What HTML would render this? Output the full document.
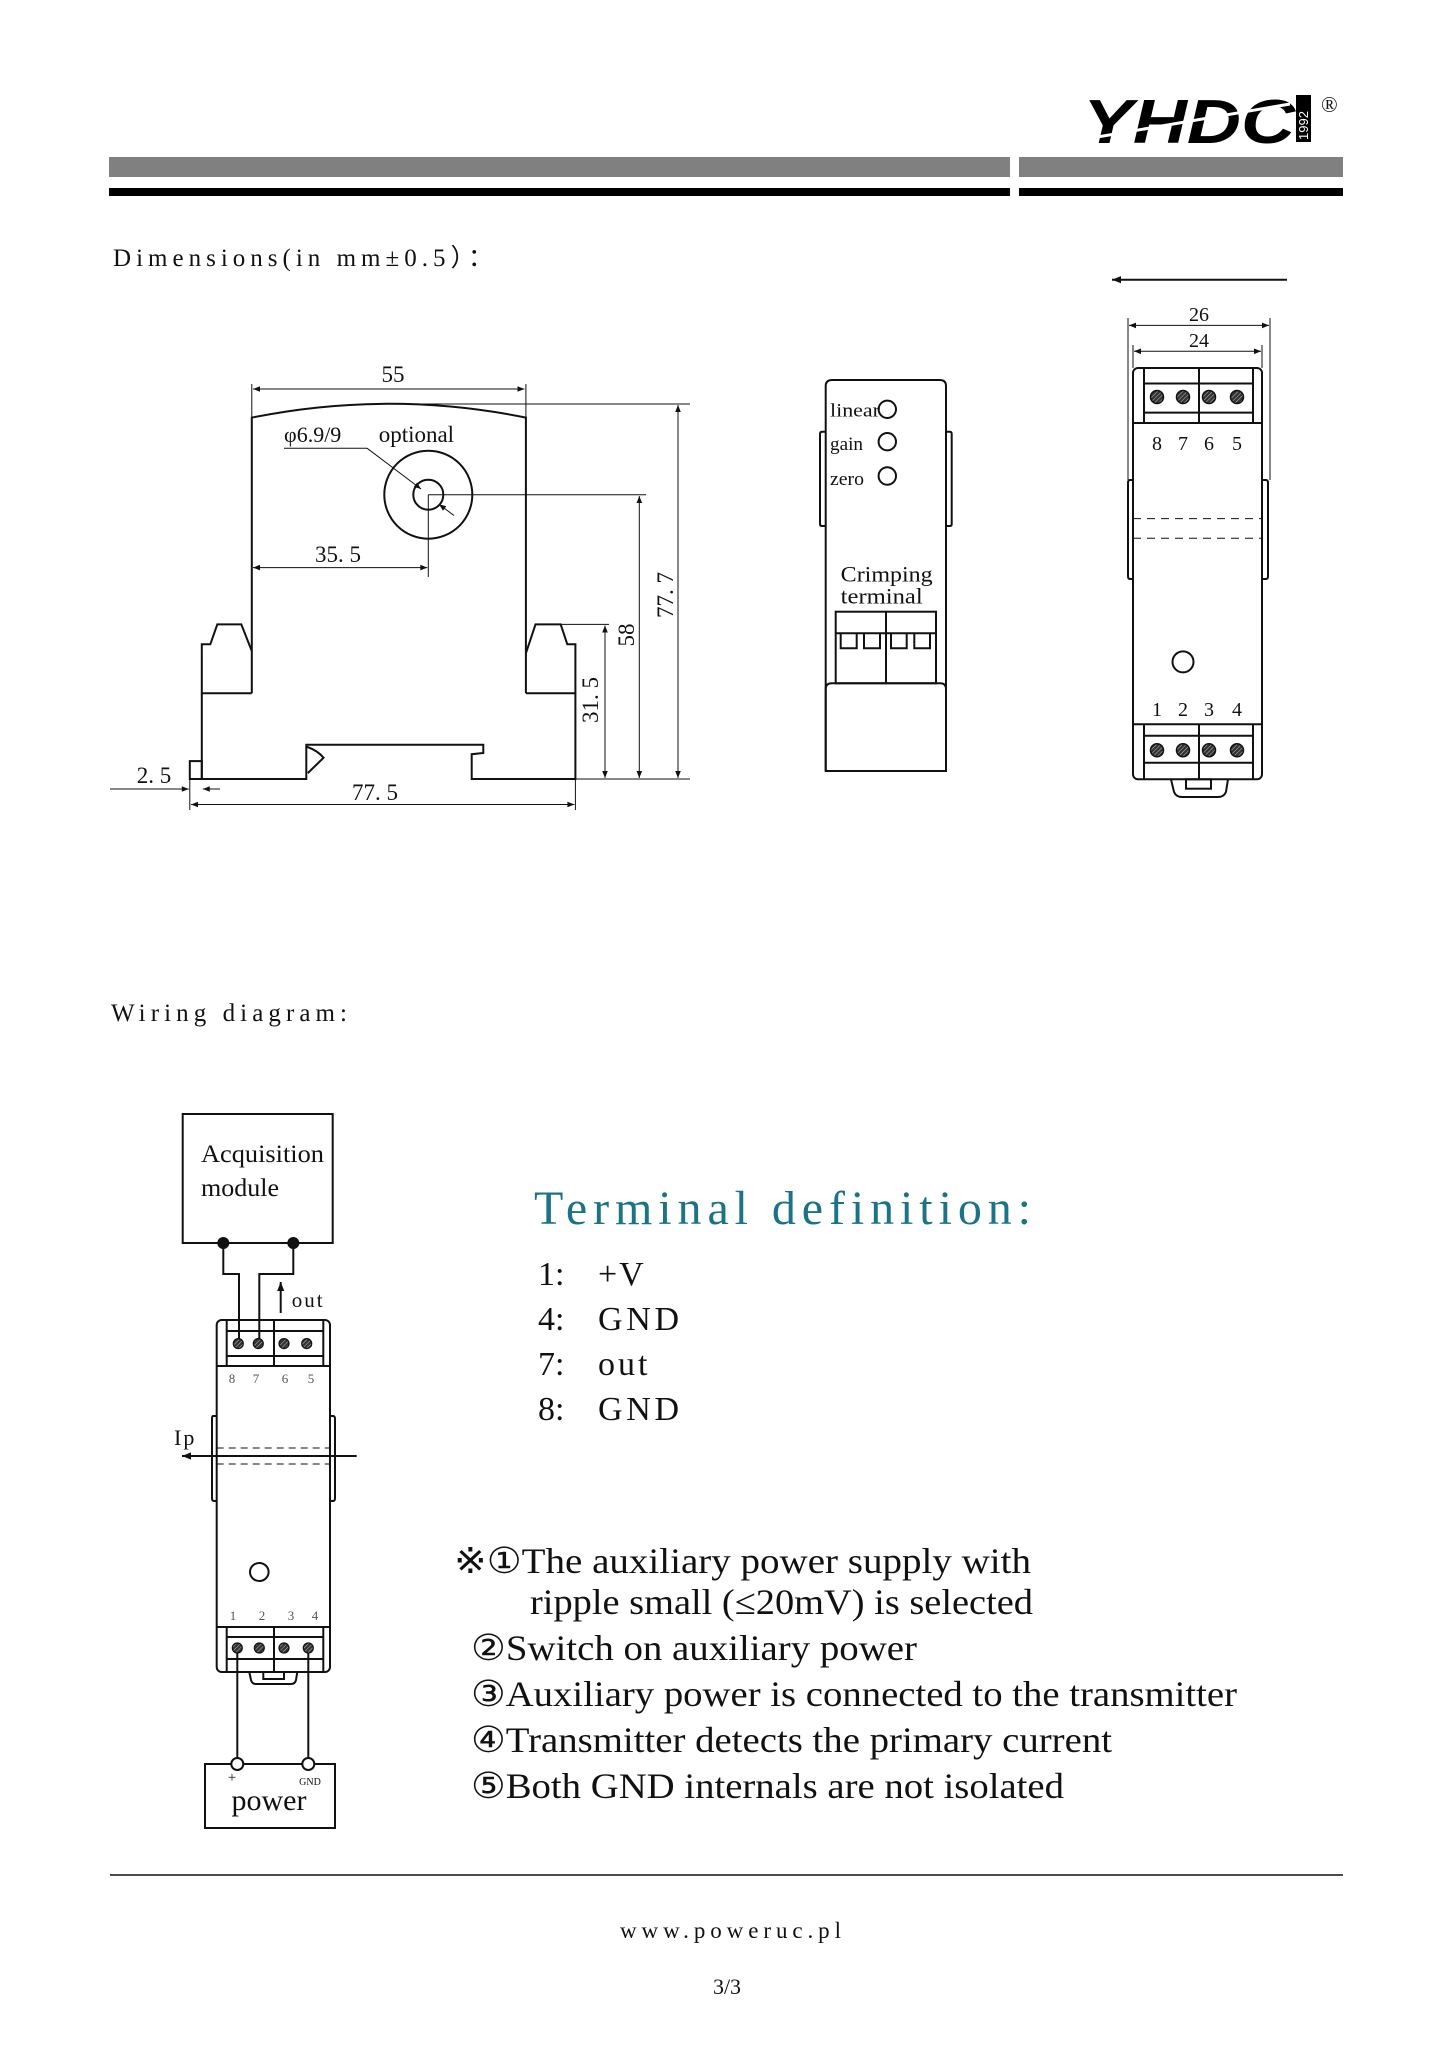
<!DOCTYPE html>
<html><head><meta charset="utf-8"><style>
html,body{margin:0;padding:0;background:#fff}
svg{display:block}
text{font-family:"Liberation Serif",serif;fill:#111}
</style></head><body>
<svg width="1447" height="2048" viewBox="0 0 1447 2048" xmlns="http://www.w3.org/2000/svg">
<defs>
<marker id="ar" viewBox="0 0 10 10" refX="10" refY="5" markerWidth="9" markerHeight="7" orient="auto-start-reverse" markerUnits="userSpaceOnUse"><path d="M0,1 L10,5 L0,9 z" fill="#111"/></marker>
<marker id="arb" viewBox="0 0 10 10" refX="10" refY="5" markerWidth="13" markerHeight="9" orient="auto-start-reverse" markerUnits="userSpaceOnUse"><path d="M0,1 L10,5 L0,9 z" fill="#111"/></marker>
<pattern id="hatch" width="3" height="3" patternUnits="userSpaceOnUse" patternTransform="rotate(45)"><rect width="3" height="3" fill="#333"/><line x1="0" y1="0" x2="0" y2="3" stroke="#bbb" stroke-width="1"/></pattern>
</defs>

<!-- Logo -->
<text x="1083" y="143" font-weight="bold" font-style="italic" font-size="62" textLength="212" lengthAdjust="spacingAndGlyphs" style="font-family:'Liberation Sans',sans-serif;fill:#000">YHDC</text>
<line x1="1080" y1="140" x2="1290" y2="104" stroke="#fff" stroke-width="3"/>
<rect x="1296" y="95" width="15" height="47" fill="#000"/>
<text transform="translate(1308,140) rotate(-90)" font-size="13" style="font-family:'Liberation Sans',sans-serif;fill:#fff">1992</text>
<text x="1321" y="112" font-size="22">®</text>

<!-- Bars -->
<rect x="109" y="157" width="901" height="20" fill="#808080"/>
<rect x="1019" y="157" width="324" height="20" fill="#808080"/>
<rect x="109" y="188" width="901" height="8" fill="#000"/>
<rect x="1019" y="188" width="324" height="8" fill="#000"/>

<text x="113" y="266" font-size="25" textLength="380" lengthAdjust="spacing">Dimensions(in mm±0.5）：</text>

<!-- Front view -->
<g stroke="#111" stroke-width="2" fill="none">
<path d="M251.8,693.3 L251.8,417.6 Q389,390 525.9,417.6 L525.9,693.3"/>
<path d="M251.8,693.3 L201.8,693.3 L201.8,644.3 L210.3,644.3 L217.3,624.4 L241.3,624.4 L251.8,651"/>
<path d="M525.9,693.3 L575.4,693.3 L575.4,644.3 L567.3,644.3 L560.7,624.4 L535.5,624.4 L525.9,653.3"/>
<path d="M201.8,693.3 L201.8,779 L306.3,779 L306.3,744.8 L483.3,744.8 L483.3,753 L471.7,754.2 L471.7,779 L575.4,779 L575.4,693.3"/>
<path d="M306.3,746.5 Q318,750.8 323.6,757.7 L307.8,773.1"/>
<rect x="189.8" y="761.1" width="12" height="17.9"/>
<circle cx="428.3" cy="494.7" r="44"/>
<circle cx="428.3" cy="494.7" r="15"/>
</g>
<g stroke="#111" stroke-width="1" fill="none">
<line x1="251.8" y1="384" x2="251.8" y2="418"/>
<line x1="525.9" y1="384" x2="525.9" y2="418"/>
<line x1="253" y1="389" x2="524.5" y2="389" marker-start="url(#ar)" marker-end="url(#ar)"/>
<line x1="253" y1="567.6" x2="427.3" y2="567.6" marker-start="url(#ar)" marker-end="url(#ar)"/>
<line x1="428.3" y1="494.7" x2="428.3" y2="577"/>
<line x1="428.3" y1="494.7" x2="646" y2="494.7"/>
<line x1="284" y1="448.2" x2="367" y2="448.2"/>
<line x1="367" y1="448.2" x2="421" y2="489" marker-end="url(#ar)"/>
<line x1="454" y1="515.5" x2="439" y2="504.3" marker-end="url(#ar)"/>
<line x1="400" y1="404" x2="690" y2="404"/>
<line x1="575.4" y1="779" x2="690" y2="779"/>
<line x1="560" y1="624.4" x2="609" y2="624.4"/>
<line x1="678" y1="405" x2="678" y2="778" marker-start="url(#ar)" marker-end="url(#ar)"/>
<line x1="639.3" y1="496" x2="639.3" y2="778" marker-start="url(#ar)" marker-end="url(#ar)"/>
<line x1="605" y1="625.5" x2="605" y2="778" marker-start="url(#ar)" marker-end="url(#ar)"/>
<line x1="189.8" y1="779" x2="189.8" y2="810"/>
<line x1="575.4" y1="779" x2="575.4" y2="810"/>
<line x1="191" y1="804.5" x2="574.4" y2="804.5" marker-start="url(#ar)" marker-end="url(#ar)"/>
<line x1="110" y1="789" x2="188.8" y2="789" marker-end="url(#ar)"/>
<line x1="220" y1="789" x2="202.8" y2="789" marker-end="url(#ar)"/>
</g>
<text x="393" y="382" font-size="23" text-anchor="middle">55</text>
<text x="284" y="442" font-size="22">φ6.9/9</text>
<text x="378.7" y="442" font-size="23">optional</text>
<text x="338" y="562" font-size="23" text-anchor="middle">35. 5</text>
<text x="375" y="800" font-size="23" text-anchor="middle">77. 5</text>
<text x="154" y="783" font-size="23" text-anchor="middle">2. 5</text>
<text transform="translate(673,595) rotate(-90)" font-size="23" text-anchor="middle">77. 7</text>
<text transform="translate(634,635) rotate(-90)" font-size="23" text-anchor="middle">58</text>
<text transform="translate(598,700) rotate(-90)" font-size="23" text-anchor="middle">31. 5</text>

<!-- Side view -->
<g stroke="#111" stroke-width="2" fill="none">
<path d="M825.7,771 L825.7,386 Q825.7,380 832,380 L940,380 Q946,380 946,386 L946,771 Z"/>
<path d="M825.7,431.7 L822,431.7 Q820,431.7 820,434 L820,524 Q820,526 822,526 L825.7,526"/>
<path d="M946,431.7 L950,431.7 Q951.7,431.7 951.7,434 L951.7,524 Q951.7,526 950,526 L946,526"/>
<path d="M825.7,771 L825.7,689 Q825.7,683.3 832,683.3 L940,683.3 Q946,683.3 946,689"/>
<rect x="835.7" y="611.7" width="100.3" height="71.6"/>
<line x1="835.7" y1="633.3" x2="936" y2="633.3"/>
<line x1="886" y1="611.7" x2="886" y2="683.3"/>
<path d="M840.7,633.3 V648.3 H856.7 V633.3 M864,633.3 V648.3 H880 V633.3 M891,633.3 V648.3 H906.7 V633.3 M914.3,633.3 V648.3 H930 V633.3"/>
<circle cx="887.3" cy="409.3" r="8.7"/>
<circle cx="887.3" cy="441.7" r="8.7"/>
<circle cx="887.3" cy="476" r="8.7"/>
</g>
<text x="830" y="416.7" font-size="19" textLength="50" lengthAdjust="spacingAndGlyphs">linear</text>
<text x="830" y="450" font-size="19" textLength="33" lengthAdjust="spacingAndGlyphs">gain</text>
<text x="830" y="485" font-size="19" textLength="34" lengthAdjust="spacingAndGlyphs">zero</text>
<text x="840.7" y="581.7" font-size="22" textLength="92" lengthAdjust="spacingAndGlyphs">Crimping</text>
<text x="840.7" y="603.3" font-size="22" textLength="82" lengthAdjust="spacingAndGlyphs">terminal</text>

<!-- Right view -->
<g stroke="#111" stroke-width="1" fill="none">
<line x1="1287" y1="279.7" x2="1112" y2="279.7" stroke-width="2" marker-end="url(#arb)"/>
<line x1="1128" y1="318" x2="1128" y2="480"/>
<line x1="1270" y1="318" x2="1270" y2="480"/>
<line x1="1133" y1="345" x2="1133" y2="368"/>
<line x1="1262" y1="345" x2="1262" y2="368"/>
<line x1="1129" y1="325.4" x2="1269" y2="325.4" marker-start="url(#ar)" marker-end="url(#ar)"/>
<line x1="1134" y1="351.3" x2="1261" y2="351.3" marker-start="url(#ar)" marker-end="url(#ar)"/>
<line x1="1133" y1="518.6" x2="1262" y2="518.6" stroke-dasharray="8,6"/>
<line x1="1133" y1="538.3" x2="1262" y2="538.3" stroke-dasharray="8,6"/>
</g>
<g stroke="#111" stroke-width="2" fill="none">
<rect x="1133" y="368" width="129" height="411.3" rx="5"/>
<path d="M1133,480 L1130,480 Q1128,480 1128,483 L1128,576 Q1128,579 1130,579 L1133,579"/>
<path d="M1262,480 L1266,480 Q1268,480 1268,483 L1268,576 Q1268,579 1266,579 L1262,579"/>
<line x1="1144" y1="368" x2="1144" y2="423"/>
<line x1="1253" y1="368" x2="1253" y2="423"/>
<line x1="1199" y1="368" x2="1199" y2="423"/>
<line x1="1144" y1="383.5" x2="1253" y2="383.5"/>
<line x1="1144" y1="412.6" x2="1253" y2="412.6"/>
<line x1="1133" y1="423" x2="1262" y2="423"/>
<line x1="1133" y1="724.3" x2="1262" y2="724.3"/>
<line x1="1144" y1="724.3" x2="1144" y2="779.3"/>
<line x1="1253" y1="724.3" x2="1253" y2="779.3"/>
<line x1="1199" y1="724.3" x2="1199" y2="779.3"/>
<line x1="1144" y1="735.7" x2="1253" y2="735.7"/>
<line x1="1144" y1="762.7" x2="1253" y2="762.7"/>
<circle cx="1183" cy="661.9" r="10.5"/>
<path d="M1171,779.3 L1174,791.8 Q1176,797 1182,797 L1218,797 Q1224,797 1226,791.8 L1228,779.3"/>
<rect x="1186" y="779.3" width="25" height="9.4"/>
</g>
<g fill="url(#hatch)" stroke="#111" stroke-width="1.5">
<circle cx="1157" cy="397" r="6.5"/><circle cx="1183" cy="397" r="6.5"/><circle cx="1209" cy="397" r="6.5"/><circle cx="1237" cy="397" r="6.5"/>
<circle cx="1157" cy="750.2" r="6.5"/><circle cx="1183" cy="750.2" r="6.5"/><circle cx="1209" cy="750.2" r="6.5"/><circle cx="1237" cy="750.2" r="6.5"/>
</g>
<g font-size="20" text-anchor="middle">
<text x="1199" y="321">26</text><text x="1199" y="347">24</text>
<text x="1157" y="450">8</text><text x="1183" y="450">7</text><text x="1209" y="450">6</text><text x="1237" y="450">5</text>
<text x="1157" y="716">1</text><text x="1183" y="716">2</text><text x="1209" y="716">3</text><text x="1237" y="716">4</text>
</g>

<text x="111" y="1021" font-size="25" textLength="236" lengthAdjust="spacing">Wiring diagram:</text>

<!-- Wiring -->
<g stroke="#111" stroke-width="2" fill="none">
<rect x="182.7" y="1114" width="150" height="129"/>
<path d="M223.3,1243 V1274 H239 V1343"/>
<path d="M293.3,1243 V1274 H259.3 V1343"/>
<rect x="216.7" y="1320" width="113.3" height="352" rx="5"/>
<line x1="226.7" y1="1320" x2="226.7" y2="1366"/><line x1="323.3" y1="1320" x2="323.3" y2="1366"/><line x1="274" y1="1320" x2="274" y2="1366"/>
<line x1="226.7" y1="1331" x2="323.3" y2="1331"/><line x1="226.7" y1="1356" x2="323.3" y2="1356"/><line x1="216.7" y1="1366" x2="330" y2="1366"/>
<path d="M216.7,1416 L213,1416 Q212,1416 212,1419 L212,1498 Q212,1501 214,1501 L216.7,1501"/>
<path d="M330,1416 L333,1416 Q335,1416 335,1419 L335,1498 Q335,1501 333,1501 L330,1501"/>
<line x1="216.7" y1="1627" x2="330" y2="1627"/>
<line x1="226.7" y1="1627" x2="226.7" y2="1672"/><line x1="323.3" y1="1627" x2="323.3" y2="1672"/><line x1="274" y1="1627" x2="274" y2="1672"/>
<line x1="226.7" y1="1637" x2="323.3" y2="1637"/><line x1="226.7" y1="1659" x2="323.3" y2="1659"/>
<ellipse cx="259.3" cy="1572" rx="9.3" ry="9"/>
<path d="M249.3,1672 L251,1680 Q252,1684 256,1684 L291,1684 Q295,1684 296,1680 L297.3,1672"/>
<rect x="263.3" y="1672" width="20.7" height="7"/>
<line x1="237.3" y1="1648" x2="237.3" y2="1758"/>
<line x1="308.3" y1="1648" x2="308.3" y2="1758"/>
<rect x="205" y="1764" width="130" height="64"/>
<line x1="280.7" y1="1313" x2="280.7" y2="1282" marker-end="url(#arb)"/>
<line x1="356.7" y1="1456" x2="182" y2="1456" marker-end="url(#arb)"/>
</g>
<g stroke="#111" stroke-width="1" fill="none">
<line x1="216.7" y1="1448" x2="330" y2="1448" stroke-dasharray="7,5"/>
<line x1="216.7" y1="1464" x2="330" y2="1464" stroke-dasharray="7,5"/>
</g>
<circle cx="223.3" cy="1243" r="6" fill="#111"/>
<circle cx="293.3" cy="1243" r="6" fill="#111"/>
<circle cx="237.3" cy="1764" r="6" fill="#fff" stroke="#111" stroke-width="2"/>
<circle cx="308.3" cy="1764" r="6" fill="#fff" stroke="#111" stroke-width="2"/>
<g fill="url(#hatch)" stroke="#111" stroke-width="1.2">
<circle cx="238.3" cy="1343.6" r="5"/><circle cx="258.3" cy="1343.6" r="5"/><circle cx="284" cy="1343.6" r="5"/><circle cx="306.7" cy="1343.6" r="5"/>
<circle cx="237.3" cy="1648" r="5"/><circle cx="259.3" cy="1648" r="5"/><circle cx="284" cy="1648" r="5"/><circle cx="308.3" cy="1648" r="5"/>
</g>
<g font-size="13" text-anchor="middle">
<text x="232" y="1383" style="fill:#555">8</text><text x="256" y="1383" style="fill:#555">7</text><text x="285" y="1383" style="fill:#555">6</text><text x="311" y="1383" style="fill:#555">5</text>
<text x="233" y="1620" style="fill:#555">1</text><text x="262" y="1620" style="fill:#555">2</text><text x="291" y="1620" style="fill:#555">3</text><text x="315" y="1620" style="fill:#555">4</text>
</g>
<text x="201" y="1162" font-size="25" textLength="123" lengthAdjust="spacingAndGlyphs">Acquisition</text>
<text x="201" y="1196" font-size="25" textLength="78" lengthAdjust="spacingAndGlyphs">module</text>
<text x="291.7" y="1307" font-size="21" letter-spacing="2">out</text>
<text x="174" y="1445" font-size="22" letter-spacing="2">Ip</text>
<text x="232" y="1782" font-size="15" text-anchor="middle">+</text>
<text x="310" y="1785" font-size="10" text-anchor="middle">GND</text>
<text x="269" y="1810" font-size="30" text-anchor="middle">power</text>

<!-- Terminal definition -->
<text x="534" y="1224" font-size="48" textLength="497" lengthAdjust="spacing" style="fill:#1a7386">Terminal definition:</text>
<g font-size="34">
<text x="538" y="1285">1:</text><text x="598" y="1285" letter-spacing="2">+V</text>
<text x="538" y="1330">4:</text><text x="598" y="1330" textLength="81" lengthAdjust="spacing">GND</text>
<text x="538" y="1375">7:</text><text x="598" y="1375" letter-spacing="3">out</text>
<text x="538" y="1420">8:</text><text x="598" y="1420" textLength="81" lengthAdjust="spacing">GND</text>
</g>

<g font-size="36">
<text x="454" y="1573" textLength="577" lengthAdjust="spacingAndGlyphs">※①The auxiliary power supply with</text>
<text x="530" y="1614" textLength="503" lengthAdjust="spacingAndGlyphs">ripple small (≤20mV) is selected</text>
<text x="471" y="1660" textLength="446" lengthAdjust="spacingAndGlyphs">②Switch on auxiliary power</text>
<text x="471" y="1706" textLength="766" lengthAdjust="spacingAndGlyphs">③Auxiliary power is connected to the transmitter</text>
<text x="471" y="1752" textLength="641" lengthAdjust="spacingAndGlyphs">④Transmitter detects the primary current</text>
<text x="471" y="1798" textLength="593" lengthAdjust="spacingAndGlyphs">⑤Both GND internals are not isolated</text>
</g>

<line x1="110" y1="1875" x2="1343" y2="1875" stroke="#111" stroke-width="1.5"/>
<text x="620" y="1938" font-size="23" textLength="221" lengthAdjust="spacing">www.poweruc.pl</text>
<text x="727" y="1994" font-size="22" text-anchor="middle">3/3</text>
</svg>
</body></html>
